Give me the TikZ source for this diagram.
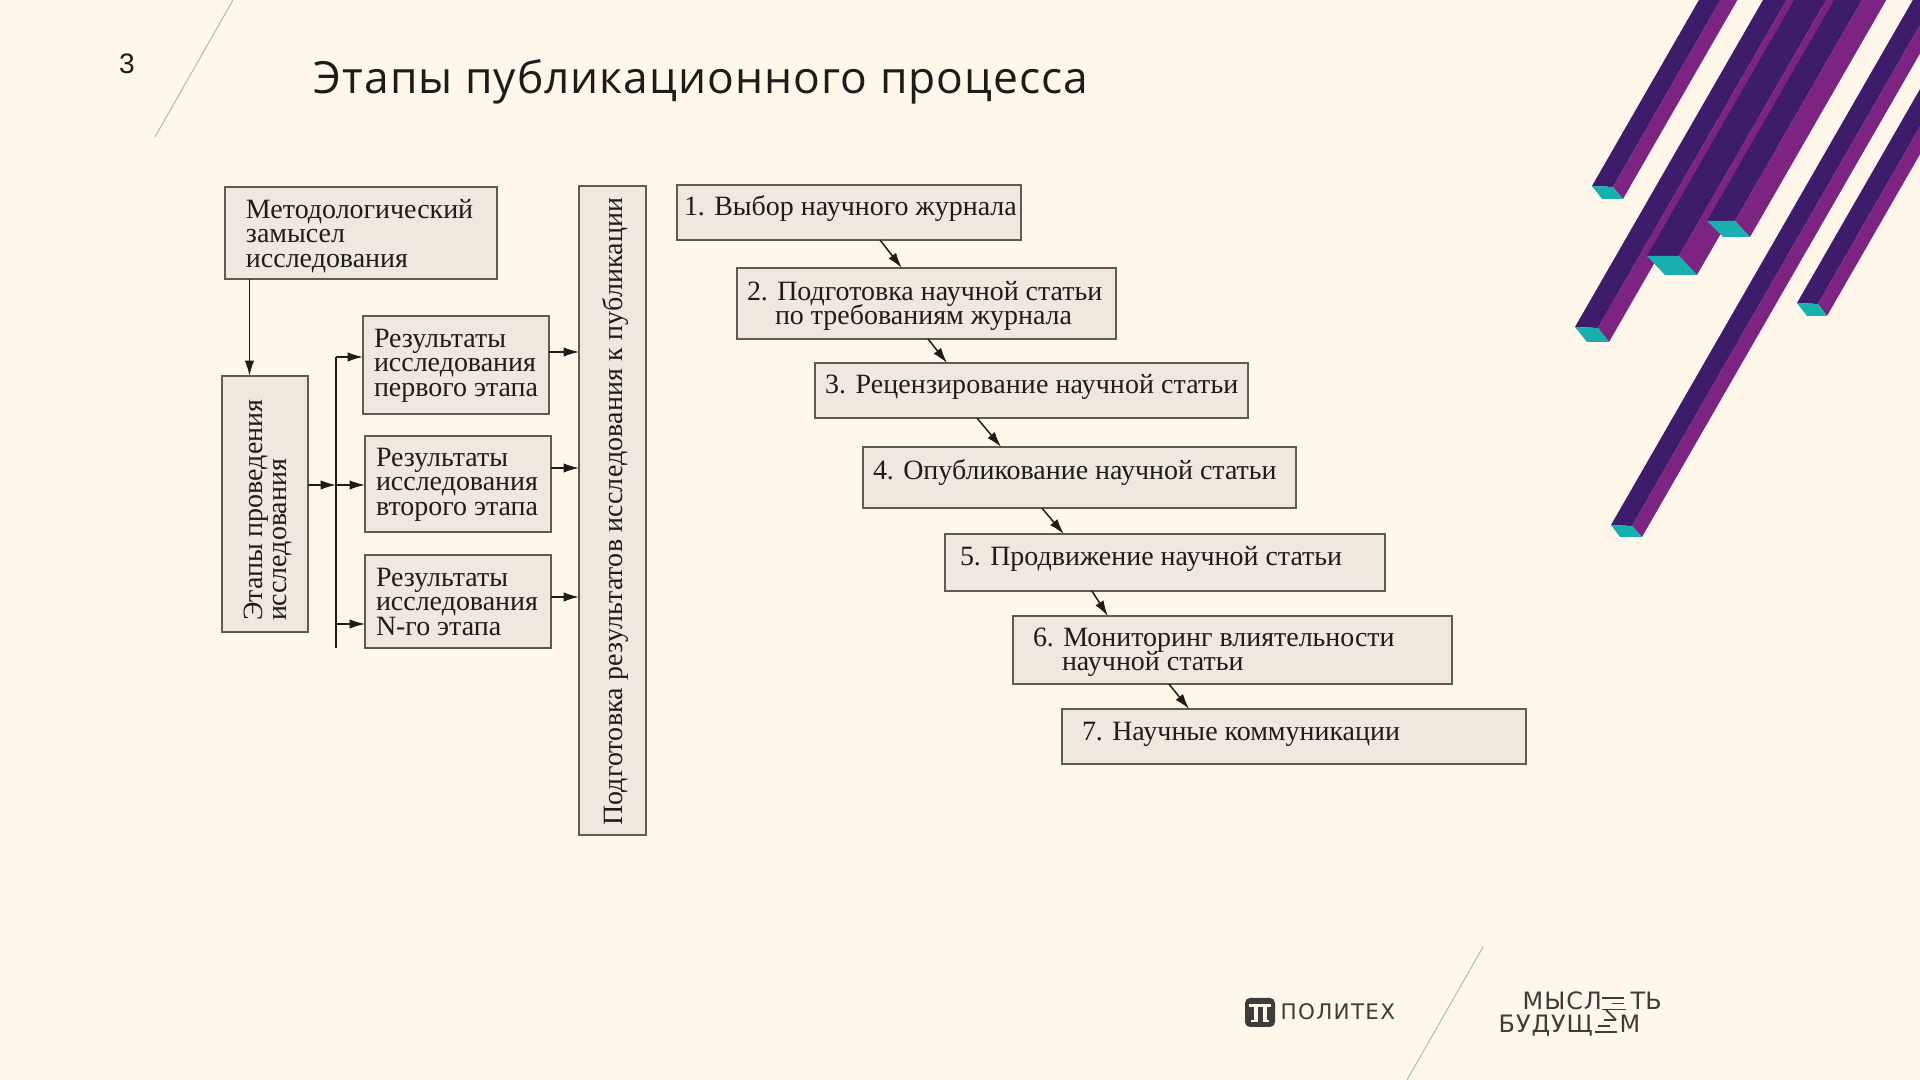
\documentclass[tikz,border=0pt]{standalone}
\usepackage{fontspec}
\usetikzlibrary{calc,arrows.meta}
\setmainfont{Liberation Serif}
\newfontfamily\headfont{Open Sans}
\newfontfamily\numfont{Liberation Sans}
\newfontfamily\logofont{DejaVu Sans}
\newdimen\px \px=0.01cm
\definecolor{pagebg}{RGB}{255,247,234}
\definecolor{boxfill}{RGB}{240,231,222}
\definecolor{boxline}{RGB}{96,90,83}
\definecolor{inkdark}{RGB}{30,28,26}
\definecolor{barDark}{RGB}{62,28,108}
\definecolor{barPurple}{RGB}{125,36,130}
\definecolor{barTeal}{RGB}{22,176,174}
\definecolor{rulegray}{RGB}{190,184,174}
\definecolor{logoink}{RGB}{62,60,58}
\newcommand{\bxt}[5]{\parbox[c][#2\px][t]{#1\px}{\vspace*{#4\px}\raggedright\leftskip=#3\px\relax\fontsize{7.95}{6.95}\selectfont\lineskiplimit=-20pt\color{inkdark}#5\par}}
\newcommand{\prism}[8]{%
 \fill[barDark] (#1,#2)--(#3,#4)--++(345,-600)--($(#1,#2)+(345,-600)$)--cycle;
 \fill[barPurple] (#3,#4)--(#5,#6)--++(345,-600)--($(#3,#4)+(345,-600)$)--cycle;
 \fill[barTeal] (#1,#2)--(#3,#4)--(#5,#6)--(#7,#8)--cycle;}
\tikzset{
 box/.style={draw=boxline,fill=boxfill,line width=0.55pt,inner sep=0pt,outer sep=0pt},
 arr/.style={draw=inkdark,line width=0.42pt,-{Latex[length=4.4pt,width=2.7pt]}},
 plain/.style={draw=inkdark,line width=0.42pt},
 rule/.style={draw=rulegray,line width=0.3pt},
 logotext/.style={inner sep=0pt,font=\logofont\fontsize{6.1}{7}\selectfont,text=logoink},
 logotextb/.style={inner sep=0pt,font=\logofont\fontsize{6.8}{7}\selectfont,text=logoink},
 zig/.style={draw=logoink,line width=0.5pt},
}
\begin{document}
\begin{tikzpicture}[x=0.01cm,y=-0.01cm]
\useasboundingbox (0,0) rectangle (1920,1080);
\fill[pagebg] (0,0) rectangle (1920,1080);
\begin{scope}
\clip (0,0) rectangle (1920,1080);
\prism{1592}{186}{1613}{187}{1623}{199}{1602}{199}
\prism{1575}{327}{1598}{328}{1609}{342}{1587}{342}
\prism{1647}{256}{1679}{256}{1697}{275}{1665}{275}
\prism{1707}{221}{1735}{221}{1750}{237}{1723}{237}
\prism{1611}{525}{1632}{526}{1642}{537}{1620}{537}
\prism{1797}{303}{1818}{304}{1827}{316}{1807}{316}
\end{scope}
\coordinate (ra) at (233,0); \coordinate (rb) at (155,137);
\coordinate (rc) at (1483,947); \coordinate (rd) at (1407,1080);
\draw[rule] (ra)--(rb);
\draw[rule] (rc)--(rd);
\node[anchor=base,font=\numfont\fontsize{8}{8}\selectfont,text=inkdark] (num) at (127,74) {3};
\node[anchor=base west,inner sep=0pt,font=\headfont\fontsize{12.6}{14}\selectfont,text=inkdark] (title) at (313,94) {\addfontfeature{LetterSpace=2.3}Этапы публикационного процесса};
% left
\node[box] (met) at (361,233) {\bxt{272}{92}{21}{12}{Методологический\\замысел\\исследования}};
\node[box,rotate=90] (eta) at (265,504) {\bxt{256}{86}{11}{22}{Этапы проведения\\исследования}};
\node[box] (r1) at (456,365) {\bxt{186}{98}{11}{13}{Результаты\\исследования\\первого этапа}};
\node[box] (r2) at (458,484) {\bxt{186}{96}{11}{12}{Результаты\\исследования\\второго этапа}};
\node[box] (r3) at (458,601.5) {\bxt{186}{93}{11}{13}{Результаты\\исследования\\N-го этапа}};
\node[box,rotate=90] (pod) at (612.5,510.5) {\bxt{649}{67}{9}{23}{\addfontfeature{LetterSpace=0.7}Подготовка результатов исследования к публикации}};
% right
\node[box] (s1) at (849,212.5) {\bxt{344}{55}{7}{11}{1. Выбор научного журнала}};
\node[box] (s2) at (926.5,303.5) {\bxt{379}{71}{10}{13}{2. Подготовка научной статьи\\\hspace*{28\px}по требованиям журнала}};
\node[box] (s3) at (1031.5,390.5) {\bxt{433}{55}{10}{11}{\addfontfeature{LetterSpace=0.4}3. Рецензирование научной статьи}};
\node[box] (s4) at (1079.5,477.5) {\bxt{433}{61}{10}{12}{4. Опубликование научной статьи}};
\node[box] (s5) at (1165,562.5) {\bxt{440}{57}{15}{12}{5. Продвижение научной статьи}};
\node[box] (s6) at (1232.5,650) {\bxt{439}{68}{20}{12}{6. Мониторинг влиятельности\\\hspace*{29\px}научной статьи}};
\node[box] (s7) at (1294,736.5) {\bxt{464}{55}{20}{13}{7. Научные коммуникации}};
% connectors left
\coordinate (m0) at ($(met.south west)!0.09!(met.south east)$);
\draw[arr] (m0) -- (m0 |- eta.east);
\coordinate (bt) at (336,357); \coordinate (bb) at (336,648);
\draw[plain] (bt)--(bb);
\coordinate (e0) at (336,485);
\draw[arr] (e0 -| eta.south) -- (e0);
\draw[arr] (bt) -- (bt -| r1.west);
\draw[arr] (e0) -- (e0 -| r2.west);
\coordinate (b3) at (336,624);
\draw[arr] (b3) -- (b3 -| r3.west);
\coordinate (y1) at (0,352); \coordinate (y2) at (0,468); \coordinate (y3) at (0,597);
\draw[arr] (r1.east |- y1) -- (pod.north |- y1);
\draw[arr] (r2.east |- y2) -- (pod.north |- y2);
\draw[arr] (r3.east |- y3) -- (pod.north |- y3);
% connectors right
\draw[arr] ($(s1.south west)!0.59!(s1.south east)$) -- ($(s2.north west)!0.435!(s2.north east)$);
\draw[arr] ($(s2.south west)!0.504!(s2.south east)$) -- ($(s3.north west)!0.305!(s3.north east)$);
\draw[arr] ($(s3.south west)!0.374!(s3.south east)$) -- ($(s4.north west)!0.319!(s4.north east)$);
\draw[arr] ($(s4.south west)!0.413!(s4.south east)$) -- ($(s5.north west)!0.27!(s5.north east)$);
\draw[arr] ($(s5.south west)!0.334!(s5.south east)$) -- ($(s6.north west)!0.216!(s6.north east)$);
\draw[arr] ($(s6.south west)!0.355!(s6.south east)$) -- ($(s7.north west)!0.274!(s7.north east)$);
% logos
\fill[logoink,rounded corners=5\px] (1245,998) rectangle (1275,1027);
\fill[pagebg] (1249,1004) rectangle (1271,1007);
\fill[pagebg] (1254,1005) rectangle (1257.5,1022);
\fill[pagebg] (1263,1005) rectangle (1266.5,1022);
\fill[pagebg] (1251,1020) rectangle (1257.5,1022);
\fill[pagebg] (1263,1020) rectangle (1269,1022);
\node[anchor=base west,logotext] (pol) at (1280,1020) {\addfontfeature{LetterSpace=6}ПОЛИТЕХ};
\node[anchor=base west,logotextb] (mys) at (1522,1010) {\addfontfeature{LetterSpace=4}МЫСЛ};
\node[anchor=base west,logotextb] (tb) at (1630,1010) {ТЬ};
\node[anchor=base west,logotextb] (bud) at (1498,1033) {\addfontfeature{LetterSpace=4}БУДУЩ};
\node[anchor=base west,logotextb] (m) at (1619,1033) {М};
\draw[zig] (1602,998)--(1624,998) (1612,1003.5)--(1624,1003.5) (1602,1009.5)--(1626,1009.5);
\draw[zig] (1606,1010)--(1616,1020);
\draw[zig] (1604,1020)--(1616,1020) (1598,1026)--(1610,1026) (1595,1032)--(1617,1032);
\end{tikzpicture}
\end{document}
